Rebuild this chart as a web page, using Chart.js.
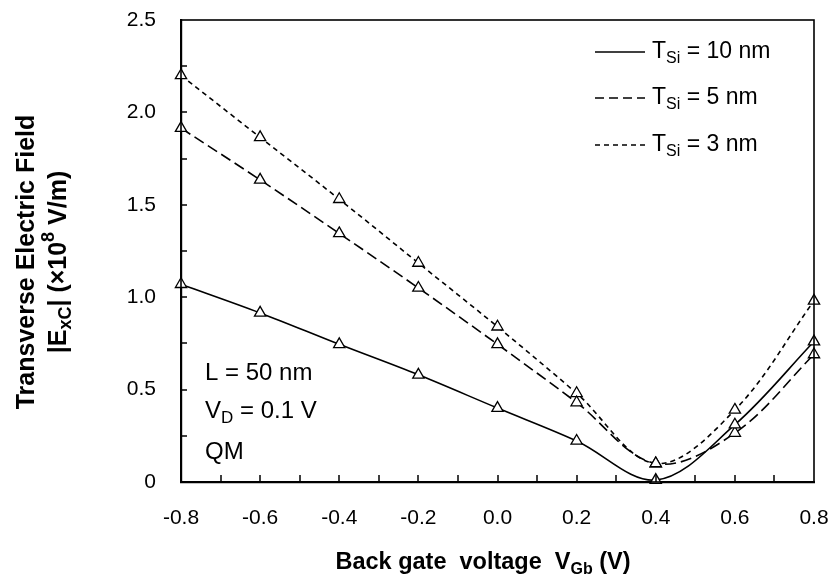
<!DOCTYPE html>
<html>
<head>
<meta charset="utf-8">
<script src="https://cdn.jsdelivr.net/npm/chart.js@4"></script>
<style>
  html, body { margin: 0; padding: 0; background: #fff; }
  #wrap { width: 836px; height: 586px; position: relative; }
</style>
</head>
<body>
<div id="wrap"><canvas id="chart" width="836" height="586"></canvas></div>
<script>
// back gate voltage (V)
const vgb = [-0.8, -0.6, -0.4, -0.2, 0.0, 0.2, 0.4, 0.6, 0.8];
// |ExC| in 1e8 V/m
const tsi10 = [1.07, 0.915, 0.745, 0.58, 0.40, 0.222, 0.01, 0.31, 0.76];
const tsi5 = [1.915, 1.635, 1.345, 1.05, 0.745, 0.43, 0.10, 0.265, 0.69];
const tsi3 = [2.20, 1.865, 1.53, 1.185, 0.84, 0.48, 0.10, 0.39, 0.98];
const seriesNames = ['10', '5', '3'];
const yTicks = [0, 0.5, 1.0, 1.5, 2.0, 2.5];

const FONT = 'Arial, "Liberation Sans", sans-serif';

function toPoints(ys) {
  return vgb.map((x, i) => ({ x, y: ys[i] }));
}

function makeSet(label, ys, dash) {
  return {
    label,
    data: toPoints(ys),
    borderColor: '#000',
    borderWidth: 1.6,
    borderDash: dash,
    backgroundColor: '#fff',
    pointStyle: 'triangle',
    pointRadius: 6.5,
    pointBorderWidth: 1.3,
    pointBorderColor: '#000',
    pointBackgroundColor: '#fff',
    tension: 0.35,
    fill: false,
    clip: 8
  };
}

// text with sub/superscript pieces: parts = [[text, 'n'|'sub'|'sup'], ...]
function drawRich(ctx, parts, x, y, size, bold, align) {
  const fontFor = (k) => `${bold ? 'bold ' : ''}${k === 'n' ? size : Math.round(size * 0.7)}px ${FONT}`;
  const w = parts.map(([t, k]) => {
    ctx.font = fontFor(k);
    return ctx.measureText(t).width;
  });
  const total = w.reduce((a, b) => a + b, 0);
  let cx = align === 'center' ? x - total / 2 : x;
  parts.forEach(([t, k], i) => {
    ctx.font = fontFor(k);
    let dy = 0;
    if (k === 'sub') dy = size * 0.3;
    if (k === 'sup') dy = -size * 0.38;
    ctx.fillText(t, cx, y + dy);
    cx += w[i];
  });
}

const frame = {
  id: 'frame',
  afterDatasetsDraw(chart) {
    const { ctx, chartArea: a, scales } = chart;
    const xs = scales.x, ys = scales.y;
    ctx.save();
    ctx.setLineDash([]);
    ctx.strokeStyle = '#000000';
    ctx.lineWidth = 1.6;
    ctx.strokeRect(a.left, a.top, a.right - a.left, a.bottom - a.top);
    // inward minor/major ticks
    ctx.lineWidth = 1.5;
    ctx.beginPath();
    for (let i = 1; i < 16; i++) {
      const px = Math.round(xs.getPixelForValue(-0.8 + i * 0.1));
      ctx.moveTo(px, a.bottom);
      ctx.lineTo(px, a.bottom - 7);
    }
    for (let i = 1; i < 10; i++) {
      const py = Math.round(ys.getPixelForValue(i * 0.25));
      ctx.moveTo(a.left, py);
      ctx.lineTo(a.left + 6, py);
    }
    ctx.stroke();
    ctx.restore();
  }
};

const texts = {
  id: 'texts',
  afterDraw(chart) {
    const { ctx } = chart;
    ctx.save();
    ctx.strokeStyle = '#000';
    ctx.fillStyle = '#000';
    ctx.textBaseline = 'middle';
    ctx.textAlign = 'left';
    // legend
    const legY = [52, 98, 145];
    const dashes = [[], [9, 5], [5, 4]];
    seriesNames.forEach((n, i) => {
      ctx.setLineDash(dashes[i]);
      ctx.lineWidth = 1.6;
      ctx.beginPath();
      ctx.moveTo(595, legY[i]);
      ctx.lineTo(645, legY[i]);
      ctx.stroke();
      ctx.setLineDash([]);
      drawRich(ctx, [['T', 'n'], ['Si', 'sub'], [' = ' + n + ' nm', 'n']], 652, legY[i], 23, false, 'left');
    });
    // conditions
    drawRich(ctx, [['L = 50 nm', 'n']], 205, 373, 24, false, 'left');
    drawRich(ctx, [['V', 'n'], ['D', 'sub'], [' = 0.1 V', 'n']], 205, 411, 24, false, 'left');
    drawRich(ctx, [['QM', 'n']], 205, 452, 24, false, 'left');
    // x title
    drawRich(ctx, [['Back gate  voltage  V', 'n'], ['Gb', 'sub'], [' (V)', 'n']], 483, 563, 23.5, true, 'center');
    // y title, two rotated lines
    ctx.save();
    ctx.translate(27, 262);
    ctx.rotate(-Math.PI / 2);
    drawRich(ctx, [['Transverse Electric Field', 'n']], 0, 0, 25, true, 'center');
    ctx.restore();
    ctx.save();
    ctx.translate(59, 262);
    ctx.rotate(-Math.PI / 2);
    drawRich(ctx, [['|E', 'n'], ['xC', 'sub'], ['| (\u00d710', 'n'], ['8', 'sup'], [' V/m)', 'n']], 0, 0, 25, true, 'center');
    ctx.restore();
    ctx.restore();
  }
};

new Chart(document.getElementById('chart'), {
  type: 'line',
  data: {
    datasets: [
      makeSet('TSi = 10 nm', tsi10, []),
      makeSet('TSi = 5 nm', tsi5, [11, 5]),
      makeSet('TSi = 3 nm', tsi3, [5, 4])
    ]
  },
  options: {
    responsive: false,
    animation: false,
    layout: { padding: { top: 20, right: 22, left: 0, bottom: 0 } },
    plugins: { legend: { display: false }, tooltip: { enabled: false } },
    scales: {
      x: {
        type: 'linear',
        min: -0.8,
        max: 0.8,
        grid: { display: false },
        border: { display: true, color: '#000', width: 2.2 },
        afterFit(s) { s.height = 104; s.paddingLeft = 0; s.paddingRight = 0; },
        ticks: {
          stepSize: 0.2,
          padding: 16,
          color: '#000',
          font: { family: FONT, size: 21 },
          callback: (v) => (Math.abs(v) < 1e-9 ? '0.0' : Number(v).toFixed(1))
        }
      },
      y: {
        min: 0,
        max: 2.5,
        grid: { display: false },
        border: { display: true, color: '#000', width: 2.2 },
        afterFit(s) { s.width = 181; s.paddingTop = 0; s.paddingBottom = 0; },
        afterBuildTicks(s) { s.ticks = yTicks.map((v) => ({ value: v })); },
        ticks: {
          padding: 17,
          color: '#000',
          font: { family: FONT, size: 21 },
          callback: (v) => (v === 0 ? '0' : Number(v).toFixed(1))
        }
      }
    }
  },
  plugins: [frame, texts]
});
</script>
</body>
</html>
